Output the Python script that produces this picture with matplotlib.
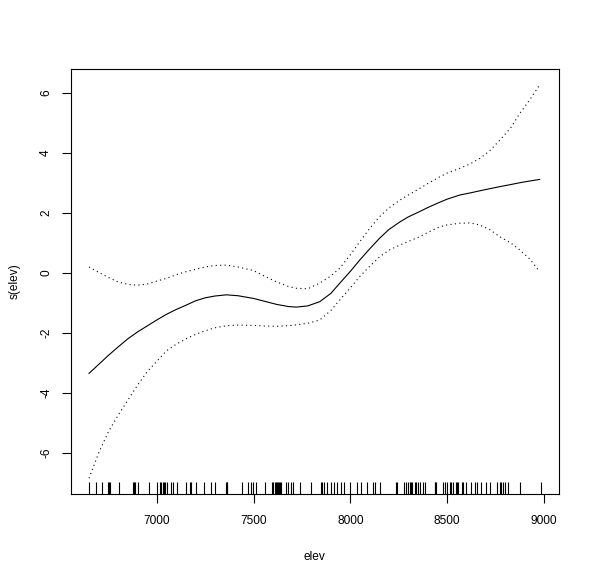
import matplotlib
matplotlib.use("Agg")
import matplotlib.pyplot as plt
import numpy as np

# smooth term s(elev)
elev = [6650, 6700, 6750, 6800, 6850, 6900, 6950, 7000, 7050, 7100, 7150, 7200,
        7250, 7300, 7360, 7420, 7500, 7560, 7620, 7680, 7720, 7780, 7842, 7900,
        7946, 8000, 8049, 8100, 8152, 8200, 8256, 8300, 8359, 8400, 8463, 8500,
        8566, 8620, 8669, 8720, 8773, 8830, 8876, 8930, 8979]
fit = [-3.35, -3.05, -2.75, -2.47, -2.2, -1.97, -1.77, -1.57, -1.38, -1.22, -1.08, -0.93,
       -0.83, -0.77, -0.73, -0.76, -0.85, -0.95, -1.05, -1.12, -1.14, -1.1, -0.96, -0.68,
       -0.34, 0.05, 0.43, 0.8, 1.16, 1.45, 1.7, 1.87, 2.05, 2.18, 2.36, 2.46,
       2.6, 2.67, 2.74, 2.81, 2.88, 2.95, 3.01, 3.07, 3.12]
upper = [0.2, 0.02, -0.15, -0.3, -0.38, -0.41, -0.37, -0.27, -0.18, -0.06, 0.04, 0.12,
         0.2, 0.25, 0.26, 0.2, 0.08, -0.12, -0.3, -0.45, -0.51, -0.53, -0.34, -0.1,
         0.16, 0.6, 1.04, 1.48, 1.88, 2.17, 2.43, 2.6, 2.82, 2.98, 3.21, 3.33,
         3.49, 3.64, 3.82, 4.07, 4.43, 4.85, 5.32, 5.8, 6.27]
lower = [-6.85, -6.0, -5.3, -4.75, -4.25, -3.75, -3.3, -2.95, -2.6, -2.38, -2.2, -2.05,
         -1.93, -1.83, -1.76, -1.74, -1.75, -1.77, -1.78, -1.76, -1.73, -1.68, -1.57, -1.25,
         -0.9, -0.5, -0.12, 0.22, 0.54, 0.76, 0.93, 1.05, 1.21, 1.35, 1.54, 1.6,
         1.66, 1.67, 1.6, 1.45, 1.21, 1.0, 0.77, 0.45, 0.04]

# observed elevations (rug)
rug = [6650, 6685, 6719, 6748, 6752, 6756, 6805, 6878, 6882, 6885, 6903, 6960,
       7002, 7016, 7024, 7033, 7037, 7040, 7053, 7071, 7084, 7102, 7153, 7171,
       7176, 7205, 7243, 7279, 7300, 7360, 7363, 7365, 7443, 7472, 7489, 7498,
       7515, 7558, 7598, 7603, 7609, 7614, 7619, 7624, 7630, 7636, 7644, 7667,
       7679, 7696, 7705, 7739, 7799, 7848, 7854, 7865, 7882, 7899, 7916, 7934,
       7951, 7968, 7999, 8037, 8054, 8084, 8118, 8127, 8152, 8239, 8244, 8278,
       8290, 8299, 8307, 8316, 8321, 8333, 8342, 8350, 8359, 8376, 8385, 8437,
       8440, 8442, 8480, 8492, 8502, 8514, 8523, 8531, 8549, 8554, 8559, 8575,
       8583, 8600, 8626, 8643, 8655, 8678, 8704, 8721, 8756, 8773, 8781, 8790,
       8798, 8816, 8876, 8984]

xticks = [7000, 7500, 8000, 8500, 9000]
yticks = [-6, -4, -2, 0, 2, 4, 6]

plt.rcParams['font.family'] = ['Liberation Sans', 'DejaVu Sans']
plt.rcParams['font.size'] = 8.6

fig = plt.figure(figsize=(5.95, 5.81), dpi=100)
ax = fig.add_axes([0.1193, 0.150, 0.8197, 0.731])

ax.plot(elev, fit, color='black', lw=0.8)
ax.plot(elev, upper, color='black', lw=0.8, linestyle=(0, (1, 3)))
ax.plot(elev, lower, color='black', lw=0.8, linestyle=(0, (1, 3)))

# rug along the bottom
ax.vlines(rug, 0, 0.027, transform=ax.get_xaxis_transform(), color='black', lw=0.8)

xr = max(rug) - min(rug)
ax.set_xlim(min(rug) - 0.04 * xr, max(rug) + 0.04 * xr)
ax.set_ylim(-7.37, 6.8)
ax.set_xticks(xticks)
ax.set_yticks(yticks)
ax.set_yticklabels([str(v) for v in yticks], rotation=90, va='center')
ax.tick_params(direction='out', length=6.5, width=0.8, color='black')
ax.tick_params(axis='x', pad=9)
ax.tick_params(axis='y', pad=7)
for s in ax.spines.values():
    s.set_linewidth(0.8)

ax.set_xlabel('elev', fontsize=8.6, labelpad=17)
ax.set_ylabel('s(elev)', fontsize=8.6, labelpad=14)

fig.savefig('out.png', dpi=100)
